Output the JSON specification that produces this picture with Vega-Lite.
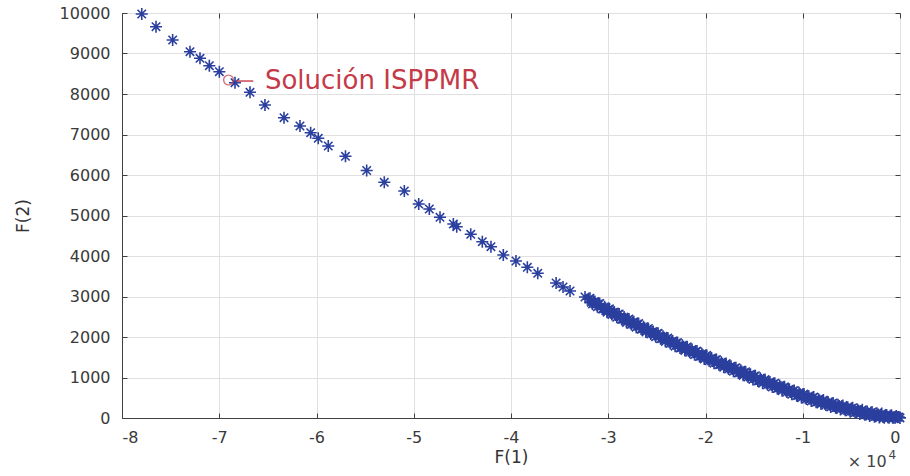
{
  "$schema": "https://vega.github.io/schema/vega-lite/v6.json",
  "width": 778,
  "height": 405,
  "autosize": {"type": "none"},
  "padding": {"left": 122, "top": 13, "right": 10, "bottom": 58},
  "background": "white",
  "config": {
    "view": {"stroke": "#404040", "strokeWidth": 1},
    "font": "DejaVu Sans",
    "axis": {
      "labelFontSize": 16,
      "labelColor": "#3a3a3a",
      "titleFontSize": 17,
      "titleFontWeight": "normal",
      "titleColor": "#333333",
      "gridColor": "#e0e0e0",
      "gridWidth": 1,
      "domainColor": "#404040",
      "tickColor": "#404040",
      "labelFont": "DejaVu Sans",
      "titleFont": "DejaVu Sans"
    }
  },
  "datasets": {
    "pareto": [
      {"f1": -77970, "f2": 9975}, {"f1": -76500, "f2": 9662}, {"f1": -74790, "f2": 9333}, {"f1": -73010, "f2": 9044},
      {"f1": -71980, "f2": 8881}, {"f1": -71020, "f2": 8699}, {"f1": -69990, "f2": 8551}, {"f1": -68380, "f2": 8279},
      {"f1": -66840, "f2": 8042}, {"f1": -65300, "f2": 7728}, {"f1": -63340, "f2": 7415}, {"f1": -61700, "f2": 7210},
      {"f1": -60600, "f2": 7044}, {"f1": -59820, "f2": 6906}, {"f1": -58790, "f2": 6716}, {"f1": -57020, "f2": 6462},
      {"f1": -54840, "f2": 6111}, {"f1": -53030, "f2": 5820}, {"f1": -50970, "f2": 5605}, {"f1": -49490, "f2": 5284},
      {"f1": -48400, "f2": 5160}, {"f1": -47300, "f2": 4956}, {"f1": -45930, "f2": 4790}, {"f1": -45580, "f2": 4724},
      {"f1": -44140, "f2": 4536}, {"f1": -42950, "f2": 4353}, {"f1": -42060, "f2": 4230}, {"f1": -40790, "f2": 4025},
      {"f1": -39490, "f2": 3877}, {"f1": -38320, "f2": 3721}, {"f1": -37250, "f2": 3573}, {"f1": -35360, "f2": 3333},
      {"f1": -34650, "f2": 3235}, {"f1": -33930, "f2": 3136}, {"f1": -32390, "f2": 2988},
      {"f1": -32000, "f2": 2935}, {"f1": -31750, "f2": 2859}, {"f1": -31500, "f2": 2862}, {"f1": -31250, "f2": 2806},
      {"f1": -31000, "f2": 2820}, {"f1": -30750, "f2": 2746}, {"f1": -30500, "f2": 2693}, {"f1": -30250, "f2": 2705},
      {"f1": -30000, "f2": 2676}, {"f1": -29750, "f2": 2599}, {"f1": -29500, "f2": 2603}, {"f1": -29250, "f2": 2546},
      {"f1": -29000, "f2": 2560}, {"f1": -28750, "f2": 2488}, {"f1": -28500, "f2": 2437}, {"f1": -28250, "f2": 2450},
      {"f1": -28000, "f2": 2424}, {"f1": -27750, "f2": 2350}, {"f1": -27500, "f2": 2357}, {"f1": -27250, "f2": 2303},
      {"f1": -27000, "f2": 2320}, {"f1": -26750, "f2": 2250}, {"f1": -26500, "f2": 2200}, {"f1": -26250, "f2": 2215},
      {"f1": -26000, "f2": 2190}, {"f1": -25750, "f2": 2115}, {"f1": -25500, "f2": 2120}, {"f1": -25250, "f2": 2065},
      {"f1": -25000, "f2": 2080}, {"f1": -24750, "f2": 2011}, {"f1": -24500, "f2": 1962}, {"f1": -24250, "f2": 1979},
      {"f1": -24000, "f2": 1955}, {"f1": -23750, "f2": 1881}, {"f1": -23500, "f2": 1887}, {"f1": -23250, "f2": 1834},
      {"f1": -23000, "f2": 1850}, {"f1": -22750, "f2": 1784}, {"f1": -22500, "f2": 1737}, {"f1": -22250, "f2": 1756},
      {"f1": -22000, "f2": 1735}, {"f1": -21750, "f2": 1664}, {"f1": -21500, "f2": 1672}, {"f1": -21250, "f2": 1621},
      {"f1": -21000, "f2": 1640}, {"f1": -20750, "f2": 1574}, {"f1": -20500, "f2": 1527}, {"f1": -20250, "f2": 1546},
      {"f1": -20000, "f2": 1525}, {"f1": -19750, "f2": 1454}, {"f1": -19500, "f2": 1462}, {"f1": -19250, "f2": 1411},
      {"f1": -19000, "f2": 1430}, {"f1": -18750, "f2": 1365}, {"f1": -18500, "f2": 1320}, {"f1": -18250, "f2": 1340},
      {"f1": -18000, "f2": 1320}, {"f1": -17750, "f2": 1250}, {"f1": -17500, "f2": 1260}, {"f1": -17250, "f2": 1210},
      {"f1": -17000, "f2": 1230}, {"f1": -16750, "f2": 1165}, {"f1": -16500, "f2": 1120}, {"f1": -16250, "f2": 1140},
      {"f1": -16000, "f2": 1120}, {"f1": -15750, "f2": 1050}, {"f1": -15500, "f2": 1060}, {"f1": -15250, "f2": 1010},
      {"f1": -15000, "f2": 1030}, {"f1": -14750, "f2": 966}, {"f1": -14500, "f2": 922}, {"f1": -14250, "f2": 944},
      {"f1": -14000, "f2": 925}, {"f1": -13750, "f2": 857}, {"f1": -13500, "f2": 870}, {"f1": -13250, "f2": 822},
      {"f1": -13000, "f2": 845}, {"f1": -12750, "f2": 782}, {"f1": -12500, "f2": 740}, {"f1": -12250, "f2": 762},
      {"f1": -12000, "f2": 745}, {"f1": -11750, "f2": 677}, {"f1": -11500, "f2": 690}, {"f1": -11250, "f2": 642},
      {"f1": -11000, "f2": 665}, {"f1": -10750, "f2": 603}, {"f1": -10500, "f2": 561}, {"f1": -10250, "f2": 585},
      {"f1": -10000, "f2": 568}, {"f1": -9750, "f2": 503}, {"f1": -9500, "f2": 519}, {"f1": -9250, "f2": 474},
      {"f1": -9000, "f2": 500}, {"f1": -8750, "f2": 441}, {"f1": -8500, "f2": 402}, {"f1": -8250, "f2": 429},
      {"f1": -8000, "f2": 415}, {"f1": -7750, "f2": 352}, {"f1": -7500, "f2": 370}, {"f1": -7250, "f2": 327},
      {"f1": -7000, "f2": 355}, {"f1": -6750, "f2": 299}, {"f1": -6500, "f2": 263}, {"f1": -6250, "f2": 293},
      {"f1": -6000, "f2": 282}, {"f1": -5750, "f2": 223}, {"f1": -5500, "f2": 243}, {"f1": -5250, "f2": 204},
      {"f1": -5000, "f2": 235}, {"f1": -4750, "f2": 182}, {"f1": -4500, "f2": 148}, {"f1": -4250, "f2": 180},
      {"f1": -4000, "f2": 172}, {"f1": -3750, "f2": 114}, {"f1": -3500, "f2": 136}, {"f1": -3250, "f2": 98},
      {"f1": -3000, "f2": 130}, {"f1": -2750, "f2": 79}, {"f1": -2500, "f2": 49}, {"f1": -2250, "f2": 83},
      {"f1": -2000, "f2": 78}, {"f1": -1750, "f2": 24}, {"f1": -1500, "f2": 50}, {"f1": -1250, "f2": 16},
      {"f1": -1000, "f2": 52}, {"f1": -750, "f2": 7}, {"f1": -500, "f2": 7}, {"f1": -250, "f2": 18},
      {"f1": 0, "f2": 3},
      {"f1": -31875, "f2": 2955}, {"f1": -31625, "f2": 2818}, {"f1": -31375, "f2": 2877}, {"f1": -31125, "f2": 2746},
      {"f1": -30875, "f2": 2828}, {"f1": -30625, "f2": 2690}, {"f1": -30375, "f2": 2747}, {"f1": -30125, "f2": 2613},
      {"f1": -29875, "f2": 2695}, {"f1": -29625, "f2": 2559}, {"f1": -29375, "f2": 2617}, {"f1": -29125, "f2": 2486},
      {"f1": -28875, "f2": 2569}, {"f1": -28625, "f2": 2433}, {"f1": -28375, "f2": 2491}, {"f1": -28125, "f2": 2360},
      {"f1": -27875, "f2": 2445}, {"f1": -27625, "f2": 2311}, {"f1": -27375, "f2": 2373}, {"f1": -27125, "f2": 2244},
      {"f1": -26875, "f2": 2330}, {"f1": -26625, "f2": 2195}, {"f1": -26375, "f2": 2255}, {"f1": -26125, "f2": 2125},
      {"f1": -25875, "f2": 2210}, {"f1": -25625, "f2": 2075}, {"f1": -25375, "f2": 2135}, {"f1": -25125, "f2": 2005},
      {"f1": -24875, "f2": 2091}, {"f1": -24625, "f2": 1957}, {"f1": -24375, "f2": 2018}, {"f1": -24125, "f2": 1890},
      {"f1": -23875, "f2": 1976}, {"f1": -23625, "f2": 1842}, {"f1": -23375, "f2": 1903}, {"f1": -23125, "f2": 1775},
      {"f1": -22875, "f2": 1862}, {"f1": -22625, "f2": 1731}, {"f1": -22375, "f2": 1794}, {"f1": -22125, "f2": 1668},
      {"f1": -21875, "f2": 1757}, {"f1": -21625, "f2": 1626}, {"f1": -21375, "f2": 1689}, {"f1": -21125, "f2": 1563},
      {"f1": -20875, "f2": 1652}, {"f1": -20625, "f2": 1521}, {"f1": -20375, "f2": 1584}, {"f1": -20125, "f2": 1458},
      {"f1": -19875, "f2": 1547}, {"f1": -19625, "f2": 1416}, {"f1": -19375, "f2": 1479}, {"f1": -19125, "f2": 1353},
      {"f1": -18875, "f2": 1443}, {"f1": -18625, "f2": 1313}, {"f1": -18375, "f2": 1378}, {"f1": -18125, "f2": 1253},
      {"f1": -17875, "f2": 1343}, {"f1": -17625, "f2": 1213}, {"f1": -17375, "f2": 1278}, {"f1": -17125, "f2": 1153},
      {"f1": -16875, "f2": 1243}, {"f1": -16625, "f2": 1113}, {"f1": -16375, "f2": 1178}, {"f1": -16125, "f2": 1053},
      {"f1": -15875, "f2": 1143}, {"f1": -15625, "f2": 1013}, {"f1": -15375, "f2": 1078}, {"f1": -15125, "f2": 953},
      {"f1": -14875, "f2": 1043}, {"f1": -14625, "f2": 914}, {"f1": -14375, "f2": 981}, {"f1": -14125, "f2": 857},
      {"f1": -13875, "f2": 949}, {"f1": -13625, "f2": 821}, {"f1": -13375, "f2": 889}, {"f1": -13125, "f2": 766},
      {"f1": -12875, "f2": 859}, {"f1": -12625, "f2": 731}, {"f1": -12375, "f2": 799}, {"f1": -12125, "f2": 676},
      {"f1": -11875, "f2": 769}, {"f1": -11625, "f2": 641}, {"f1": -11375, "f2": 709}, {"f1": -11125, "f2": 586},
      {"f1": -10875, "f2": 679}, {"f1": -10625, "f2": 552}, {"f1": -10375, "f2": 621}, {"f1": -10125, "f2": 499},
      {"f1": -9875, "f2": 593}, {"f1": -9625, "f2": 469}, {"f1": -9375, "f2": 539}, {"f1": -9125, "f2": 420},
      {"f1": -8875, "f2": 516}, {"f1": -8625, "f2": 392}, {"f1": -8375, "f2": 463}, {"f1": -8125, "f2": 345},
      {"f1": -7875, "f2": 441}, {"f1": -7625, "f2": 319}, {"f1": -7375, "f2": 391}, {"f1": -7125, "f2": 274},
      {"f1": -6875, "f2": 372}, {"f1": -6625, "f2": 251}, {"f1": -6375, "f2": 326}, {"f1": -6125, "f2": 210},
      {"f1": -5875, "f2": 310}, {"f1": -5625, "f2": 191}, {"f1": -5375, "f2": 266}, {"f1": -5125, "f2": 152},
      {"f1": -4875, "f2": 254}, {"f1": -4625, "f2": 135}, {"f1": -4375, "f2": 212}, {"f1": -4125, "f2": 99},
      {"f1": -3875, "f2": 201}, {"f1": -3625, "f2": 83}, {"f1": -3375, "f2": 160}, {"f1": -3125, "f2": 47},
      {"f1": -2875, "f2": 150}, {"f1": -2625, "f2": 34}, {"f1": -2375, "f2": 114}, {"f1": -2125, "f2": 10},
      {"f1": -1875, "f2": 109}, {"f1": -1625, "f2": 5}, {"f1": -1375, "f2": 76}, {"f1": -1125, "f2": 7},
      {"f1": -875, "f2": 70}, {"f1": -625, "f2": 5}, {"f1": -375, "f2": 50}, {"f1": -125, "f2": 25}
    ],
    "note": [{"f1": -65300, "f2": 8333, "label": "Solución ISPPMR"}],
    "marker": [{"f1": -69050, "f2": 8346}],
    "dash": [{"f1": -68250, "f1b": -66500, "f2": 8320}],
    "expo": [{"f1": -1380, "f2": -1210, "label": "× 10"}],
    "expo4": [{"f1": -1180, "f2": -1012, "label": "4"}]
  },
  "resolve": {"axis": {"x": "independent", "y": "independent"}},
  "layer": [
    {
      "data": {"name": "pareto"},
      "mark": {
        "type": "point",
        "shape": "M-1,0L1,0M0,-1L0,1M-0.7,-0.7L0.7,0.7M-0.7,0.7L0.7,-0.7",
        "filled": false,
        "stroke": "#2b3f9e",
        "strokeWidth": 1.6,
        "size": 145,
        "opacity": 1
      },
      "encoding": {
        "x": {
          "field": "f1",
          "type": "quantitative",
          "scale": {"domain": [-80000, 0], "nice": false, "zero": false},
          "axis": {
            "values": [-80000, -70000, -60000, -50000, -40000, -30000, -20000, -10000, 0],
            "labelExpr": "datum.value / 10000",
            "title": "F(1)",
            "grid": true,
            "tickSize": -5,
            "labelPadding": 16,
            "titlePadding": 4
          }
        },
        "y": {
          "field": "f2",
          "type": "quantitative",
          "scale": {"domain": [0, 10000], "nice": false},
          "axis": {
            "values": [0, 1000, 2000, 3000, 4000, 5000, 6000, 7000, 8000, 9000, 10000],
            "format": "d",
            "title": "F(2)",
            "grid": true,
            "tickSize": -5,
            "labelPadding": 17,
            "titlePadding": 27
          }
        }
      }
    },
    {
      "data": {"name": "marker"},
      "mark": {"type": "point", "shape": "circle", "filled": false, "stroke": "#c43a48", "strokeWidth": 1.4, "size": 95},
      "encoding": {
        "x": {
          "field": "f1", "type": "quantitative",
          "axis": {"orient": "top", "values": [-80000, -70000, -60000, -50000, -40000, -30000, -20000, -10000, 0], "labels": false, "grid": false, "domain": false, "tickSize": -5, "title": null}
        },
        "y": {
          "field": "f2", "type": "quantitative",
          "axis": {"orient": "right", "values": [0, 1000, 2000, 3000, 4000, 5000, 6000, 7000, 8000, 9000, 10000], "labels": false, "grid": false, "domain": false, "tickSize": -5, "title": null}
        }
      }
    },
    {
      "data": {"name": "dash"},
      "mark": {"type": "rule", "stroke": "#c43a48", "strokeWidth": 1.4},
      "encoding": {
        "x": {"field": "f1", "type": "quantitative", "axis": null},
        "x2": {"field": "f1b"},
        "y": {"field": "f2", "type": "quantitative", "axis": null}
      }
    },
    {
      "data": {"name": "note"},
      "mark": {"type": "text", "align": "left", "baseline": "middle", "fontSize": 26, "color": "#c43a48", "font": "DejaVu Sans"},
      "encoding": {
        "x": {"field": "f1", "type": "quantitative", "axis": null},
        "y": {"field": "f2", "type": "quantitative", "axis": null},
        "text": {"field": "label"}
      }
    },
    {
      "data": {"name": "expo"},
      "mark": {"type": "text", "align": "right", "baseline": "alphabetic", "fontSize": 16, "color": "#444444", "font": "DejaVu Sans"},
      "encoding": {
        "x": {"field": "f1", "type": "quantitative", "axis": null},
        "y": {"field": "f2", "type": "quantitative", "axis": null},
        "text": {"field": "label"}
      }
    },
    {
      "data": {"name": "expo4"},
      "mark": {"type": "text", "align": "left", "baseline": "alphabetic", "fontSize": 12, "color": "#444444", "font": "DejaVu Sans"},
      "encoding": {
        "x": {"field": "f1", "type": "quantitative", "axis": null},
        "y": {"field": "f2", "type": "quantitative", "axis": null},
        "text": {"field": "label"}
      }
    }
  ]
}
